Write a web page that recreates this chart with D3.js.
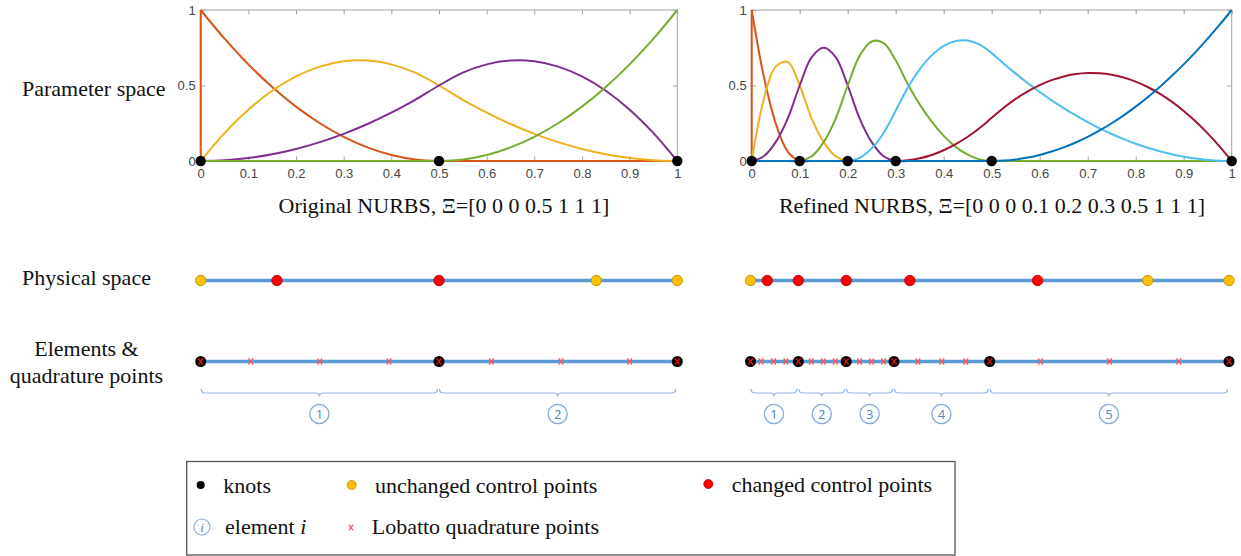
<!DOCTYPE html>
<html>
<head>
<meta charset="utf-8">
<script src="https://cdn.jsdelivr.net/npm/d3@7"></script>
<style>
  html, body { margin: 0; padding: 0; background: #fff; }
  svg { display: block; }
</style>
</head>
<body>
<svg id="fig" width="1241" height="556"></svg>
<script>
// ---------- data ----------
// sampling grids of the parameter u
const uOriginal = [0,0.05,0.1,0.15,0.2,0.25,0.3,0.35,0.4,0.45,0.5,0.55,0.6,0.65,0.7,0.75,0.8,0.85,0.9,0.95,1];
const uRefined = [0,0.025,0.05,0.075,0.1,0.125,0.15,0.175,0.2,0.225,0.25,0.275,0.3,0.325,0.35,0.375,0.4,0.425,0.45,0.475,
                  0.5,0.525,0.55,0.575,0.6,0.625,0.65,0.675,0.7,0.725,0.75,0.775,0.8,0.825,0.85,0.875,0.9,0.925,0.95,0.975,1];

// quadratic basis functions, knot vector [0 0 0 0.5 1 1 1]
const origN0 = [1,0.81,0.64,0.49,0.36,0.25,0.16,0.09,0.04,0.01,0,0,0,0,0,0,0,0,0,0,0];
const origN1 = [0,0.185,0.34,0.465,0.56,0.625,0.66,0.665,0.64,0.585,0.5,0.405,0.32,0.245,0.18,0.125,0.08,0.045,0.02,0.005,0];
const origN2 = [0,0.005,0.02,0.045,0.08,0.125,0.18,0.245,0.32,0.405,0.5,0.585,0.64,0.665,0.66,0.625,0.56,0.465,0.34,0.185,0];
const origN3 = [0,0,0,0,0,0,0,0,0,0,0,0.01,0.04,0.09,0.16,0.25,0.36,0.49,0.64,0.81,1];

// quadratic basis functions, knot vector [0 0 0 0.1 0.2 0.3 0.5 1 1 1]
const refN0 = [1,0.5625,0.25,0.0625,0, 0,0,0,0,0, 0,0,0,0,0, 0,0,0,0,0, 0,0,0,0,0, 0,0,0,0,0, 0,0,0,0,0, 0,0,0,0,0, 0];
const refN1 = [0,0.40625,0.625,0.65625,0.5, 0.28125,0.125,0.03125,0,0, 0,0,0,0,0, 0,0,0,0,0, 0,0,0,0,0, 0,0,0,0,0, 0,0,0,0,0, 0,0,0,0,0, 0];
const refN2 = [0,0.03125,0.125,0.28125,0.5, 0.6875,0.75,0.6875,0.5,0.28125, 0.125,0.03125,0,0,0, 0,0,0,0,0, 0,0,0,0,0, 0,0,0,0,0, 0,0,0,0,0, 0,0,0,0,0, 0];
const refN3 = [0,0,0,0,0, 0.03125,0.125,0.28125,0.5,0.6979, 0.7917,0.7813,0.6667,0.5104,0.375, 0.2604,0.1667,0.0938,0.0417,0.0104,
               0,0,0,0,0, 0,0,0,0,0, 0,0,0,0,0, 0,0,0,0,0, 0];
const refN4 = [0,0,0,0,0, 0,0,0,0,0.0208, 0.0833,0.1875,0.3333,0.4851,0.6071, 0.6994,0.7619,0.7946,0.7976,0.7708,
               0.7143,0.6446,0.5786,0.5161,0.4571, 0.4018,0.35,0.3018,0.2571,0.2161, 0.1786,0.1446,0.1143,0.0875,0.0643,
               0.0446,0.0286,0.0161,0.0071,0.0018, 0];
const refN5 = [0,0,0,0,0, 0,0,0,0,0, 0,0,0,0.0045,0.0179, 0.0402,0.0714,0.1116,0.1607,0.2188,
               0.2857,0.3529,0.4114,0.4614,0.5029, 0.5357,0.56,0.5757,0.5829,0.5814, 0.5714,0.5529,0.5257,0.49,0.4457,
               0.3929,0.3314,0.2614,0.1829,0.0957, 0];
const refN6 = [0,0,0,0,0, 0,0,0,0,0, 0,0,0,0,0, 0,0,0,0,0, 0,0.0025,0.01,0.0225,0.04, 0.0625,0.09,0.1225,0.16,0.2025,
               0.25,0.3025,0.36,0.4225,0.49, 0.5625,0.64,0.7225,0.81,0.9025, 1];

const basisColors = ["#D95319","#EDB120","#7E2F8E","#77AC30","#4DBEEE","#A2142F","#0072BD"];

// distinct knots
const knotsOriginal = [0,0.5,1];
const knotsRefined = [0,0.1,0.2,0.3,0.5,1];

// control points in physical space
const ctrlOriginal = [0,0.16,0.5,0.83,1];
const ctrlOriginalKind = ["unchanged","changed","changed","unchanged","unchanged"];
const ctrlRefined = [0,0.035,0.1,0.2,0.333,0.6,0.83,1];
const ctrlRefinedKind = ["unchanged","changed","changed","changed","changed","changed","unchanged","unchanged"];

// interior Lobatto quadrature points
const quadOriginal = [0.105,0.25,0.395,0.61,0.756,0.9];
const quadRefined = [0.022,0.048,0.074,0.127,0.152,0.177,0.228,0.253,0.278,0.35,0.4,0.45,0.606,0.75,0.895];

// axis ticks
const xTickValues = [0,0.1,0.2,0.3,0.4,0.5,0.6,0.7,0.8,0.9,1];
const yTickValues = [0,0.5,1];

const rowLabels = ["Parameter space","Physical space"];
const elementLabelLines = ["Elements &","quadrature points"];
const subtitleOriginal = "Original NURBS, \u039E=[0 0 0 0.5 1 1 1]";
const subtitleRefined = "Refined NURBS, \u039E=[0 0 0 0.1 0.2 0.3 0.5 1 1 1]";

// ---------- drawing ----------
const svg = d3.select("#fig");
svg.append("rect").attr("width",1241).attr("height",556).attr("fill","#fff");

const SERIF = "'Liberation Serif','Times New Roman',serif";
const SANS = "'Liberation Sans',Arial,sans-serif";
const ctrlFill = { unchanged: "#FFC000", changed: "#FF0000" };
const ctrlStroke = { unchanged: "#B8900A", changed: "#C00000" };

const y = d3.scaleLinear().domain([0,1]).range([161,10]);
const rowPhys = 280.5, rowElem = 361.5, rowBrace = 393, rowNum = 414;

const panels = [
  { u: uOriginal, basis: [origN0,origN1,origN2,origN3], knots: knotsOriginal,
    ctrl: ctrlOriginal, ctrlKind: ctrlOriginalKind, quad: quadOriginal,
    range: [200.7,677.3], lowRange: [200.7,677.3], subtitle: subtitleOriginal, subX: 444 },
  { u: uRefined, basis: [refN0,refN1,refN2,refN3,refN4,refN5,refN6], knots: knotsRefined,
    ctrl: ctrlRefined, ctrlKind: ctrlRefinedKind, quad: quadRefined,
    range: [751.7,1231.7], lowRange: [750.5,1229], subtitle: subtitleRefined, subX: 992 }
];

function styleAxis(sel) {
  sel.attr("font-size", null).attr("font-family", null);
  sel.select(".domain").remove();
  sel.selectAll("line").attr("stroke","#a3a3a3").attr("stroke-width",1);
  sel.selectAll("text").attr("fill","#454545").style("font-family",SANS).style("font-size","13px");
}

function bracePath(x0, x1, yb) {
  const m = (x0 + x1) / 2;
  return `M${x0},${yb-4} Q${x0},${yb} ${x0+4},${yb} L${m-4},${yb} Q${m},${yb} ${m},${yb+3.5}` +
         ` Q${m},${yb} ${m+4},${yb} L${x1-4},${yb} Q${x1},${yb} ${x1},${yb-4}`;
}

function crossPath(w, h) {
  return `M${-w/2},${-h/2} L${w/2},${h/2} M${w/2},${-h/2} L${-w/2},${h/2}`;
}

panels.forEach(p => {
  const x = d3.scaleLinear().domain([0,1]).range(p.range);
  const g = svg.append("g");

  // axes box and inward ticks
  g.append("rect").attr("x",x(0)).attr("y",y(1)).attr("width",x(1)-x(0)).attr("height",y(0)-y(1))
    .attr("fill","none").attr("stroke","#a3a3a3").attr("stroke-width",1);
  g.append("g").attr("transform",`translate(0,${y(0)})`)
    .call(d3.axisBottom(x).tickValues(xTickValues).tickFormat(d3.format("~g"))
      .tickSizeInner(-4.5).tickSizeOuter(0).tickPadding(8)).call(styleAxis);
  g.append("g").attr("transform",`translate(0,${y(1)})`)
    .call(d3.axisTop(x).tickValues(xTickValues).tickFormat("").tickSizeInner(-4.5).tickSizeOuter(0)).call(styleAxis);
  g.append("g").attr("transform",`translate(${x(0)},0)`)
    .call(d3.axisLeft(y).tickValues(yTickValues).tickFormat(d3.format("~g"))
      .tickSizeInner(-4.5).tickSizeOuter(0).tickPadding(5)).call(styleAxis);
  g.append("g").attr("transform",`translate(${x(1)},0)`)
    .call(d3.axisRight(y).tickValues(yTickValues).tickFormat("").tickSizeInner(-4.5).tickSizeOuter(0)).call(styleAxis);

  // basis functions
  const line = d3.line().x(d => x(d[0])).y(d => y(d[1])).curve(d3.curveCatmullRom.alpha(0.5));
  p.basis.forEach((vals, i) => {
    const pts = p.u.map((u, k) => [u, vals[k]]);
    if (i === 0) {
      // first function jumps up from zero at u = 0
      g.append("path").attr("d", d3.line().x(d => x(d[0])).y(d => y(d[1]))([[0,0],[0,vals[0]]]))
        .attr("fill","none").attr("stroke",basisColors[i]).attr("stroke-width",2);
    }
    g.append("path").attr("d", line(pts)).attr("fill","none")
      .attr("stroke",basisColors[i]).attr("stroke-width",2).attr("stroke-linejoin","round");
  });

  // knots on the parameter axis
  g.selectAll("circle.knot").data(p.knots).join("circle").attr("class","knot")
    .attr("cx", d => x(d)).attr("cy", y(0)).attr("r",5.2).attr("fill","#000");

  // subtitle
  g.append("text").attr("x",p.subX).attr("y",213).attr("text-anchor","middle")
    .style("font-family",SERIF).style("font-size","22px").attr("fill","#111").text(p.subtitle);

  // ---- physical space ----
  const xl = d3.scaleLinear().domain([0,1]).range(p.lowRange);
  g.append("line").attr("x1",xl(0)).attr("x2",xl(1)).attr("y1",rowPhys).attr("y2",rowPhys)
    .attr("stroke","#5B9BD5").attr("stroke-width",3.5);
  g.selectAll("circle.ctrl").data(p.ctrl).join("circle").attr("class","ctrl")
    .attr("cx", d => xl(d)).attr("cy", rowPhys).attr("r",5.2)
    .attr("fill", (d,i) => ctrlFill[p.ctrlKind[i]])
    .attr("stroke", (d,i) => ctrlStroke[p.ctrlKind[i]]).attr("stroke-width",0.9);

  // ---- elements & quadrature points ----
  g.append("line").attr("x1",xl(0)).attr("x2",xl(1)).attr("y1",rowElem).attr("y2",rowElem)
    .attr("stroke","#5B9BD5").attr("stroke-width",3.5);
  g.selectAll("path.quad").data(p.quad).join("path").attr("class","quad")
    .attr("transform", d => `translate(${xl(d)},${rowElem})`).attr("d", crossPath(4.6,6.4))
    .attr("fill","none").attr("stroke","#FF5454").attr("stroke-width",1.3);
  g.selectAll("circle.eknot").data(p.knots).join("circle").attr("class","eknot")
    .attr("cx", d => xl(d)).attr("cy", rowElem).attr("r",5.5).attr("fill","#000");
  g.selectAll("path.kquad").data(p.knots).join("path").attr("class","kquad")
    .attr("transform", d => `translate(${xl(d)},${rowElem})`).attr("d", crossPath(4.6,6.4))
    .attr("fill","none").attr("stroke","#E01010").attr("stroke-width",1.4);

  // element braces with circled numbers
  const elems = d3.pairs(p.knots);
  elems.forEach(([a,b], i) => {
    const x0 = xl(a) + 0.5, x1 = xl(b) - 1.5, m = (x0 + x1) / 2;
    g.append("path").attr("d", bracePath(x0, x1, rowBrace)).attr("fill","none")
      .attr("stroke","#8FB4E3").attr("stroke-width",1.2);
    g.append("circle").attr("cx",m).attr("cy",rowNum).attr("r",9.6).attr("fill","#fff")
      .attr("stroke","#84AADB").attr("stroke-width",1.3);
    g.append("text").attr("x",m).attr("y",rowNum+4.8).attr("text-anchor","middle")
      .style("font-family","'Open Sans',"+SANS).style("font-size","13px").attr("fill","#4F86C6").text(i+1);
  });
});

// ---------- row labels ----------
svg.append("text").attr("x",22).attr("y",96).style("font-family",SERIF).style("font-size","22px")
  .attr("fill","#111").text(rowLabels[0]);
svg.append("text").attr("x",22).attr("y",285).style("font-family",SERIF).style("font-size","22px")
  .attr("fill","#111").text(rowLabels[1]);
elementLabelLines.forEach((t, i) => {
  svg.append("text").attr("x",86.5).attr("y",356 + i*27).attr("text-anchor","middle")
    .style("font-family",SERIF).style("font-size","22px").attr("fill","#111").text(t);
});

// ---------- legend ----------
const lg = svg.append("g");
lg.append("rect").attr("x",186.7).attr("y",461.5).attr("width",768.3).attr("height",93.5)
  .attr("fill","#fff").attr("stroke","#555").attr("stroke-width",1.3);
const legText = (x, yy) => lg.append("text").attr("x",x).attr("y",yy)
  .style("font-family",SERIF).style("font-size","22px").attr("fill","#111");

lg.append("circle").attr("cx",200.7).attr("cy",485).attr("r",4).attr("fill","#000");
legText(223.3, 492.5).text("knots");
lg.append("circle").attr("cx",351.7).attr("cy",485).attr("r",4.5).attr("fill",ctrlFill.unchanged)
  .attr("stroke",ctrlStroke.unchanged).attr("stroke-width",0.8);
legText(375, 492.5).text("unchanged control points");
lg.append("circle").attr("cx",708.3).attr("cy",484).attr("r",4.5).attr("fill",ctrlFill.changed)
  .attr("stroke",ctrlStroke.changed).attr("stroke-width",0.8);
legText(731.7, 492).text("changed control points");

lg.append("circle").attr("cx",202).attr("cy",527).attr("r",8).attr("fill","#fff")
  .attr("stroke","#84AADB").attr("stroke-width",1.1);
lg.append("text").attr("x",202).attr("y",531.5).attr("text-anchor","middle")
  .style("font-family",SERIF).style("font-size","13px").style("font-style","italic").attr("fill","#4F86C6").text("i");
const el = legText(225, 533.5);
el.append("tspan").text("element ");
el.append("tspan").style("font-style","italic").text("i");
lg.append("path").attr("transform","translate(351,527.5)").attr("d",crossPath(4.2,5.8))
  .attr("fill","none").attr("stroke","#FF5454").attr("stroke-width",1.2);
legText(371.7, 533.5).text("Lobatto quadrature points");
</script>
</body>
</html>
